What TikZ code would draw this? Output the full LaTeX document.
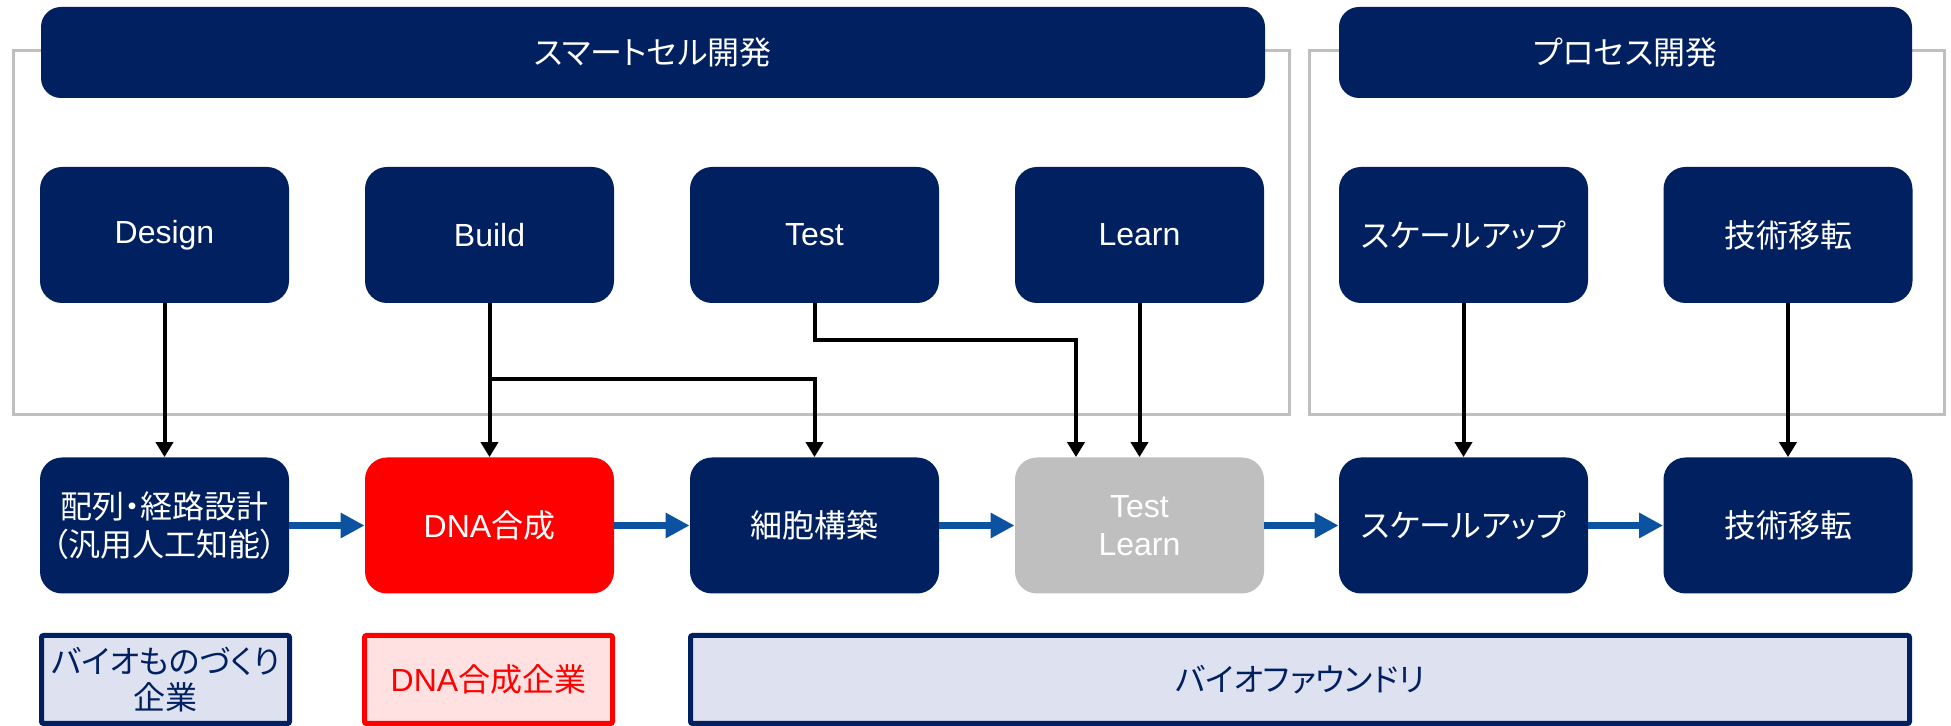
\documentclass[tikz,border=0pt]{standalone}
\usepackage{fontspec}
\setmainfont{Liberation Sans}
\newfontfamily\jp[RawFeature=+palt]{Noto Sans CJK JP}
\usetikzlibrary{arrows.meta}
\definecolor{navy}{HTML}{002060}
\definecolor{flowblue}{HTML}{0B53A0}
\definecolor{framegray}{HTML}{BFBFBF}
\definecolor{lightnavy}{HTML}{DEE1EF}
\definecolor{lightred}{HTML}{FFE1E1}
\definecolor{boxgray}{HTML}{BFBFBF}
\begin{document}
\begin{tikzpicture}[x=0.5pt,y=-0.5pt,
  stage/.style={rounded corners=11pt, minimum width=124.5pt, minimum height=68pt,
    inner sep=0pt, align=center, text=white, fill=navy,
    font=\fontsize{16}{19}\selectfont},
  banner/.style={rounded corners=10pt, minimum height=45.5pt, inner sep=0pt,
    fill=navy, text=white, font=\fontsize{16}{19}\selectfont},
  org/.style={draw=navy, fill=lightnavy, text=navy, line width=2.5pt,
    rounded corners=1pt, minimum width=124pt, minimum height=44pt, inner sep=0pt,
    align=center, font=\fontsize{16}{18}\selectfont},
  frame/.style={draw=framegray, line width=1.5pt},
  flow/.style={draw=flowblue, line width=3.5pt, -{Triangle[length=12pt,width=12pt]}},
  feed/.style={draw=black, line width=2pt, -{Triangle[length=7.5pt,width=8.5pt]}}
]
\useasboundingbox (0,0) rectangle (1951,726);
% frames
\draw[frame] (13,51) rectangle (1289,415);
\draw[frame] (1309,51) rectangle (1944,415);
% banners
\node[banner, minimum width=612pt] (smart) at (653,52.5) {\jp スマートセル開発};
\node[banner, minimum width=286.5pt] (proc) at (1625.5,52.5) {\jp プロセス開発};
% top row
\node[stage] (design) at (164.5,235) {Design};
\node[stage] (build) at (489.5,235) {Build};
\node[stage] (test) at (814.5,235) {Test};
\node[stage] (learn) at (1139.5,235) {Learn};
\node[stage] (scaleT) at (1463.5,235) {\jp スケールアップ};
\node[stage] (transT) at (1788,235) {\jp 技術移転};
% middle row
\node[stage] (seq) at (164.5,525.5) {\jp 配列・経路設計\\\jp （汎用人工知能）};
\node[stage, fill=red] (dna) at (489.5,525.5) {DNA{\jp 合成}};
\node[stage] (cell) at (814.5,525.5) {\jp 細胞構築};
\node[stage, fill=boxgray] (tl) at (1139.5,525.5) {Test\\Learn};
\node[stage] (scaleB) at (1463.5,525.5) {\jp スケールアップ};
\node[stage] (transB) at (1788,525.5) {\jp 技術移転};
% bottom row
\node[org] (bio) at (165.5,679.5) {\jp バイオものづくり\\\jp 企業};
\node[org, draw=red, fill=lightred, text=red] (dnaco) at (488.5,679.5) {DNA{\jp 合成企業}};
\node[org, minimum width=609.5pt] (found) at (1300,679.5) {\jp バイオファウンドリ};
% feed connectors
\coordinate (bj) at (489.5,379);
\coordinate (tj) at (1076,340);
\draw[feed] (design) -- (seq);
\draw[feed] (build) -- (dna);
\draw[feed] (bj) -| (cell.north);
\draw[feed] (test.south) |- (tj) -- (tj |- tl.north);
\draw[feed] (learn) -- (tl);
\draw[feed] (scaleT) -- (scaleB);
\draw[feed] (transT) -- (transB);
% flow arrows
\draw[flow] (seq) -- (dna);
\draw[flow] (dna) -- (cell);
\draw[flow] (cell) -- (tl);
\draw[flow] (tl) -- (scaleB);
\draw[flow] (scaleB) -- (transB);
\end{tikzpicture}
\end{document}
